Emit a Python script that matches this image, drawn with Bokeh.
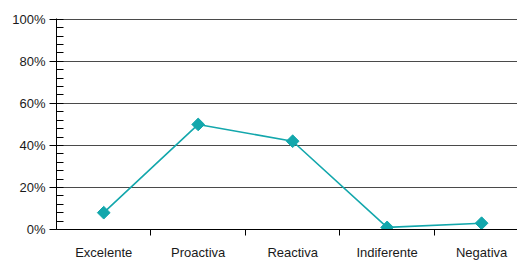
import math
from bokeh.plotting import figure
from bokeh.models import Range1d, FixedTicker, LinearAxis, ColumnDataSource, Grid
from bokeh.embed import file_html
from bokeh.resources import INLINE

categories = ["Excelente", "Proactiva", "Reactiva", "Indiferente", "Negativa"]
values = [8, 50, 42, 1, 3]
y_ticks = [0, 20, 40, 60, 80, 100]

xs = [i + 0.5 for i in range(len(categories))]
src = ColumnDataSource(dict(x=xs, y=values, cat=categories))

p = figure(width=517, height=262, output_backend="svg", toolbar_location=None,
           x_range=Range1d(0, 4.88), y_range=Range1d(0, 100.4),
           x_axis_type=None, y_axis_type=None,
           min_border_left=56, min_border_right=0, min_border_top=18, min_border_bottom=33)
p.outline_line_color = None
p.background_fill_color = "white"
p.border_fill_color = "white"

FONT = "Liberation Sans"

yaxis = LinearAxis(ticker=FixedTicker(ticks=y_ticks, minor_ticks=list(range(0, 101, 4))))
yaxis.major_label_overrides = {t: f"{t}%" for t in y_ticks}
yaxis.major_label_text_font = FONT
yaxis.major_label_text_font_size = "13px"
yaxis.major_label_text_color = "#1a1a1a"
yaxis.major_tick_out = 7
yaxis.major_tick_in = 0
yaxis.minor_tick_out = 0
yaxis.minor_tick_in = 7
yaxis.axis_line_color = "black"
yaxis.major_tick_line_color = "black"
yaxis.minor_tick_line_color = "black"
yaxis.major_label_standoff = 4
p.add_layout(yaxis, "left")

xaxis = LinearAxis(ticker=FixedTicker(ticks=xs, minor_ticks=[1, 2, 3, 4]))
xaxis.major_label_overrides = {x: c for x, c in zip(xs, categories)}
xaxis.major_label_text_font = FONT
xaxis.major_label_text_font_size = "13px"
xaxis.major_label_text_color = "#1a1a1a"
xaxis.major_tick_line_color = None
xaxis.major_tick_out = 0
xaxis.major_tick_in = 0
xaxis.minor_tick_out = 6
xaxis.minor_tick_in = 0
xaxis.minor_tick_line_color = "black"
xaxis.axis_line_color = "black"
xaxis.major_label_standoff = 9
p.add_layout(xaxis, "below")

grid = Grid(dimension=1, ticker=FixedTicker(ticks=y_ticks))
grid.grid_line_color = "#4a4a4a"
grid.grid_line_width = 1
p.add_layout(grid)

p.line("x", "y", source=src, line_color="#13A7AC", line_width=1.6)
p.scatter("x", "y", source=src, marker="square", size=9, angle=math.pi / 4,
          fill_color="#13A7AC", line_color="#13A7AC")

open("out.html", "w").write(file_html(p, INLINE))
